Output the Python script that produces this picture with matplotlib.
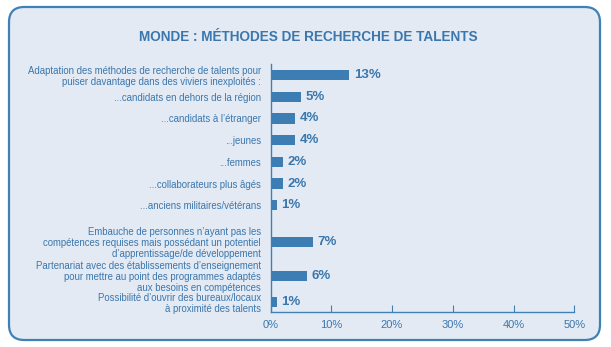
import matplotlib
matplotlib.use("Agg")
import matplotlib.pyplot as plt
from matplotlib.patches import FancyBboxPatch

categories = [
    "Adaptation des méthodes de recherche de talents pour\npuiser davantage dans des viviers inexploités :",
    "...candidats en dehors de la région",
    "...candidats à l’étranger",
    "...jeunes",
    "...femmes",
    "...collaborateurs plus âgés",
    "...anciens militaires/vétérans",
    "Embauche de personnes n’ayant pas les\ncompétences requises mais possédant un potentiel\nd’apprentissage/de développement",
    "Partenariat avec des établissements d’enseignement\npour mettre au point des programmes adaptés\naux besoins en compétences",
    "Possibilité d’ouvrir des bureaux/locaux\nà proximité des talents",
]
values = [13, 5, 4, 4, 2, 2, 1, 7, 6, 1]
tick_values = [0, 10, 20, 30, 40, 50]
tick_labels = ["0%", "10%", "20%", "30%", "40%", "50%"]
title = "MONDE : MÉTHODES DE RECHERCHE DE TALENTS"

# layout: row slots (uneven spacing as in reference)
slots = [0, 1, 2, 3, 4, 5, 6, 7.68, 9.25, 10.47]

bar_color = "#3C7DB4"
text_color = "#3A77AE"
bg = "#E4EAF3"

plt.rcParams['font.family'] = ['Liberation Sans', 'DejaVu Sans']

fig = plt.figure(figsize=(6.11, 3.47), dpi=100)
W, H = 611, 347

panel = FancyBboxPatch((9 / W, 7 / H), (600 - 9) / W, (340 - 7) / H,
                       boxstyle="round,pad=0,rounding_size=0.025",
                       transform=fig.transFigure, facecolor=bg,
                       edgecolor="#3F80B5", linewidth=1.6, mutation_aspect=W / H,
                       zorder=-10)
fig.patches.append(panel)

fig.text(308 / W, 1 - 37 / H, title, ha="center", va="center",
         fontsize=9.8, fontweight="bold", color="#3A77AE")

ax = fig.add_axes([270.5 / W, (H - 312) / H, (574.3 - 270.5) / W, (312 - 64) / H])
ax.set_facecolor("none")
ax.barh(slots, values, height=0.47, color=bar_color)
ax.set_xlim(0, 50)
ax.set_ylim(10.92, -0.51)

for s, v in zip(slots, values):
    ax.text(v + 0.75, s, f"{v}%", va="center", ha="left", fontsize=9.5,
            fontweight="bold", color=text_color)

ax.set_yticks(slots)
ax.set_yticklabels(categories, fontsize=6.9, color=text_color, linespacing=1.08)
ax.tick_params(axis="y", length=0, pad=7)
ax.set_xticks(tick_values)
ax.set_xticklabels(tick_labels, fontsize=8, color=text_color)
ax.tick_params(axis="x", direction="in", length=5, color="#3F80B5", pad=6)

for side in ["top", "right"]:
    ax.spines[side].set_visible(False)
for side in ["left", "bottom"]:
    ax.spines[side].set_color("#3F80B5")
    ax.spines[side].set_linewidth(1.0)

fig.savefig("out.png", dpi=100)
